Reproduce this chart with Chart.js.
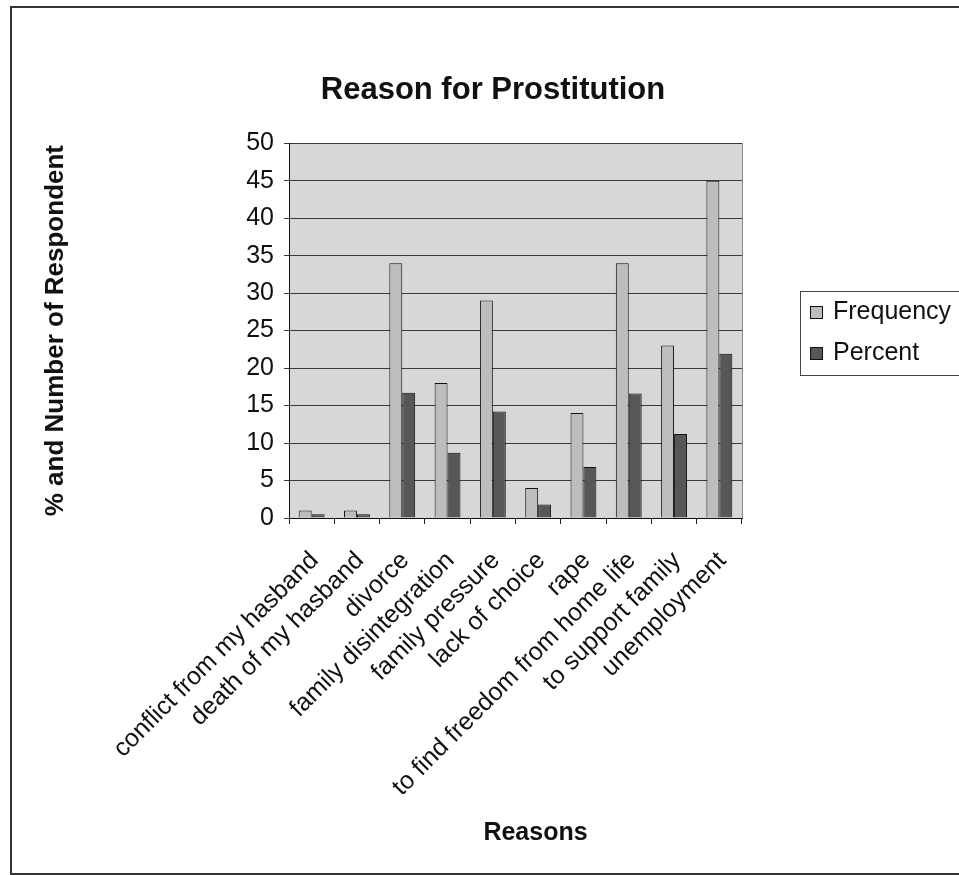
<!DOCTYPE html>
<html>
<head>
<meta charset="utf-8">
<script src="https://cdn.jsdelivr.net/npm/chart.js@4/dist/chart.umd.min.js"></script>
<style>
  html, body { margin: 0; padding: 0; background: #fff; overflow: hidden; }
  #frame {
    position: absolute; left: 10px; top: 6px;
    width: 960px; height: 865px;
    border: 2px solid #333;
  }
  #chart { display: block; }
</style>
</head>
<body>
<div id="frame"><canvas id="chart" width="952" height="865"></canvas></div>
<script>
// Survey results: reasons given by respondents
const categories = [
  'conflict from my hasband',
  'death of my hasband',
  'divorce',
  'family disintegration',
  'family pressure',
  'lack of choice',
  'rape',
  'to find freedom from home life',
  'to support family',
  'unemployment'
];
const frequency = [1, 1, 34, 18, 29, 4, 14, 34, 23, 45];
const percent = [0.5, 0.5, 16.7, 8.7, 14.2, 1.8, 6.8, 16.6, 11.2, 21.9];
const yTicks = [0, 5, 10, 15, 20, 25, 30, 35, 40, 45, 50];

const FONT = '"Liberation Sans", Arial, sans-serif';

// Plot-area fill, border, boxed legend and x-axis caption
const chrome = {
  id: 'chrome',
  beforeDraw(chart) {
    const {ctx, chartArea: a} = chart;
    ctx.save();
    ctx.fillStyle = '#d7d7d7';
    ctx.fillRect(a.left, a.top, a.right - a.left, a.bottom - a.top);
    ctx.restore();
  },
  afterDraw(chart) {
    const {ctx, chartArea: a} = chart;
    ctx.save();
    // right edge of plot area
    ctx.strokeStyle = '#8a8a8a';
    ctx.lineWidth = 1;
    ctx.beginPath();
    ctx.moveTo(a.right + 0.5, a.top);
    ctx.lineTo(a.right + 0.5, a.bottom);
    ctx.stroke();

    // legend box
    const lx = a.right + 58, ly = 283, lw = 200, lh = 84;
    ctx.strokeStyle = '#444';
    ctx.strokeRect(lx + 0.5, ly + 0.5, lw, lh);
    ctx.font = '25px ' + FONT;
    ctx.textBaseline = 'middle';
    ctx.textAlign = 'left';
    chart.data.datasets.forEach((ds, i) => {
      const cy = ly + 21 + i * 41;
      ctx.fillStyle = ds.backgroundColor;
      ctx.fillRect(lx + 10, cy - 6, 12, 12);
      ctx.strokeStyle = '#111';
      ctx.strokeRect(lx + 10.5, cy - 5.5, 12, 12);
      ctx.fillStyle = '#111';
      ctx.fillText(ds.label, lx + 33, cy);
    });

    // x-axis caption
    ctx.font = 'bold 25px ' + FONT;
    ctx.textAlign = 'center';
    ctx.fillText('Reasons', (a.left + a.right) / 2 + 20, 825);
    ctx.restore();
  }
};

new Chart(document.getElementById('chart'), {
  type: 'bar',
  data: {
    labels: categories,
    datasets: [
      {
        label: 'Frequency',
        data: frequency,
        backgroundColor: '#bdbdbd',
        borderColor: '#111',
        borderWidth: 1,
        categoryPercentage: 0.571,
        barPercentage: 1
      },
      {
        label: 'Percent',
        data: percent,
        backgroundColor: '#575757',
        borderColor: '#111',
        borderWidth: 1,
        categoryPercentage: 0.571,
        barPercentage: 1
      }
    ]
  },
  options: {
    responsive: false,
    animation: false,
    devicePixelRatio: 1,
    layout: { padding: { left: 10, right: 0, top: 0, bottom: 0 } },
    plugins: {
      legend: { display: false },
      tooltip: { enabled: false },
      title: {
        display: true,
        text: 'Reason for Prostitution',
        color: '#111',
        font: { family: FONT, size: 31, weight: 'bold' },
        padding: { top: 64, bottom: 34 }
      }
    },
    scales: {
      x: {
        grid: {
          display: true,
          drawOnChartArea: false,
          drawTicks: true,
          tickLength: 6,
          color: '#222',
          offset: true
        },
        border: { display: true, color: '#111', width: 1 },
        ticks: {
          color: '#111',
          font: { family: FONT, size: 25 },
          minRotation: 45,
          maxRotation: 45,
          autoSkip: false,
          padding: 22,
          labelOffset: 3
        },
        afterFit(scale) { scale.height = 355; }
      },
      y: {
        min: 0,
        max: 50,
        afterBuildTicks(scale) { scale.ticks = yTicks.map(v => ({ value: v })); },
        grid: {
          color: '#3a3a3a',
          tickLength: 5,
          drawTicks: true
        },
        border: { display: true, color: '#111', width: 1 },
        ticks: {
          color: '#111',
          font: { family: FONT, size: 25 },
          padding: 10
        },
        title: {
          display: true,
          text: '% and Number of Respondent',
          color: '#111',
          font: { family: FONT, size: 26, weight: 'bold' },
          padding: { top: 18, bottom: 0 }
        },
        afterFit(scale) { scale.width = 267; }
      },
      // right-hand column that holds the legend
      legendColumn: {
        position: 'right',
        display: true,
        grid: { display: false, drawTicks: false },
        border: { display: false },
        ticks: { display: false },
        afterFit(scale) { scale.width = 222; }
      }
    }
  },
  plugins: [chrome]
});
</script>
</body>
</html>
